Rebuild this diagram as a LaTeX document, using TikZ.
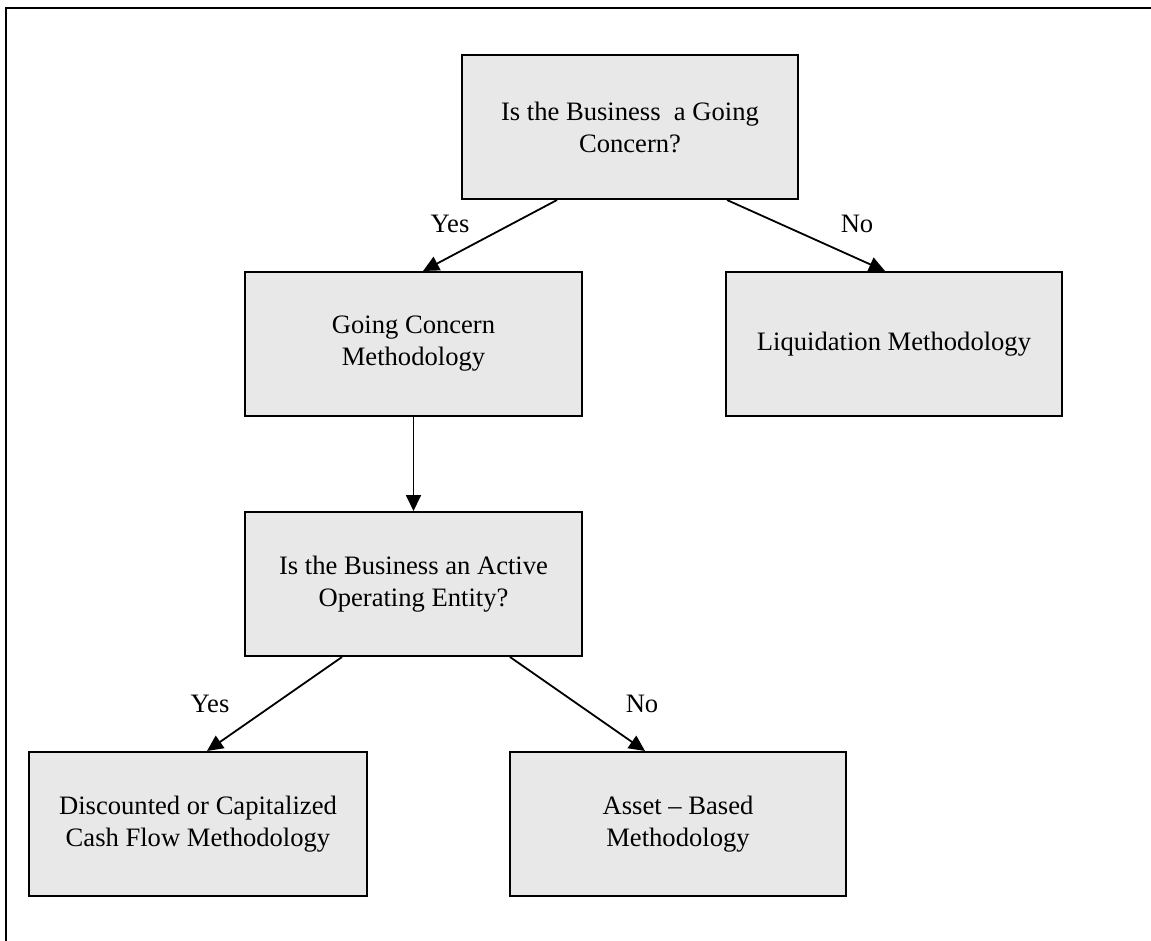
\documentclass[tikz,border=0pt]{standalone}
\usepackage{fontspec}
\setmainfont{Liberation Serif}
\usetikzlibrary{arrows.meta}
\definecolor{boxfill}{HTML}{E8E8E8}
\begin{document}
\begin{tikzpicture}[x=1pt,y=-1pt,
  flowbox/.style={draw=black, line width=2pt, fill=boxfill, rectangle,
    minimum height=144pt, inner sep=0pt, align=center,
    font=\fontsize{26.6}{32}\selectfont},
  lbl/.style={font=\fontsize{26.6}{32}\selectfont, inner sep=0pt},
  conn/.style={line width=1.8pt, -{Triangle[length=16pt,width=15pt]}}]
\useasboundingbox (0,0) rectangle (1151,940);
\draw[line width=2pt] (5.5,941) -- (5.5,8) -- (1152,8);

\node[flowbox, minimum width=336pt] (b1) at (630,127) {Is the Business\ \ a Going\\Concern?};
\node[flowbox, minimum width=337pt] (b2) at (413.5,344) {Going Concern\\Methodology};
\node[flowbox, minimum width=336pt] (b3) at (894,344) {Liquidation Methodology};
\node[flowbox, minimum width=337pt] (b4) at (413.5,584) {Is the Business an Active\\Operating Entity?};
\node[flowbox, minimum width=338pt] (b5) at (198,824) {Discounted or Capitalized\\Cash Flow Methodology};
\node[flowbox, minimum width=336pt] (b6) at (678,824) {Asset -- Based\\Methodology};

\draw[conn] ([xshift=-73pt]b1.south) -- ([xshift=9.5pt]b2.north);
\draw[conn] ([xshift=97pt]b1.south) -- ([xshift=-9pt]b3.north);
\draw[conn] (b2.south) -- (b4.north);
\draw[conn] ([xshift=-71.5pt]b4.south) -- ([xshift=9pt]b5.north);
\draw[conn] ([xshift=96.5pt]b4.south) -- ([xshift=-33pt]b6.north);

\node[lbl] (y1) at (450,224) {Yes};
\node[lbl] (n1) at (857,224) {No};
\node[lbl] (y2) at (210,704) {Yes};
\node[lbl] (n2) at (642,704) {No};
\end{tikzpicture}
\end{document}
